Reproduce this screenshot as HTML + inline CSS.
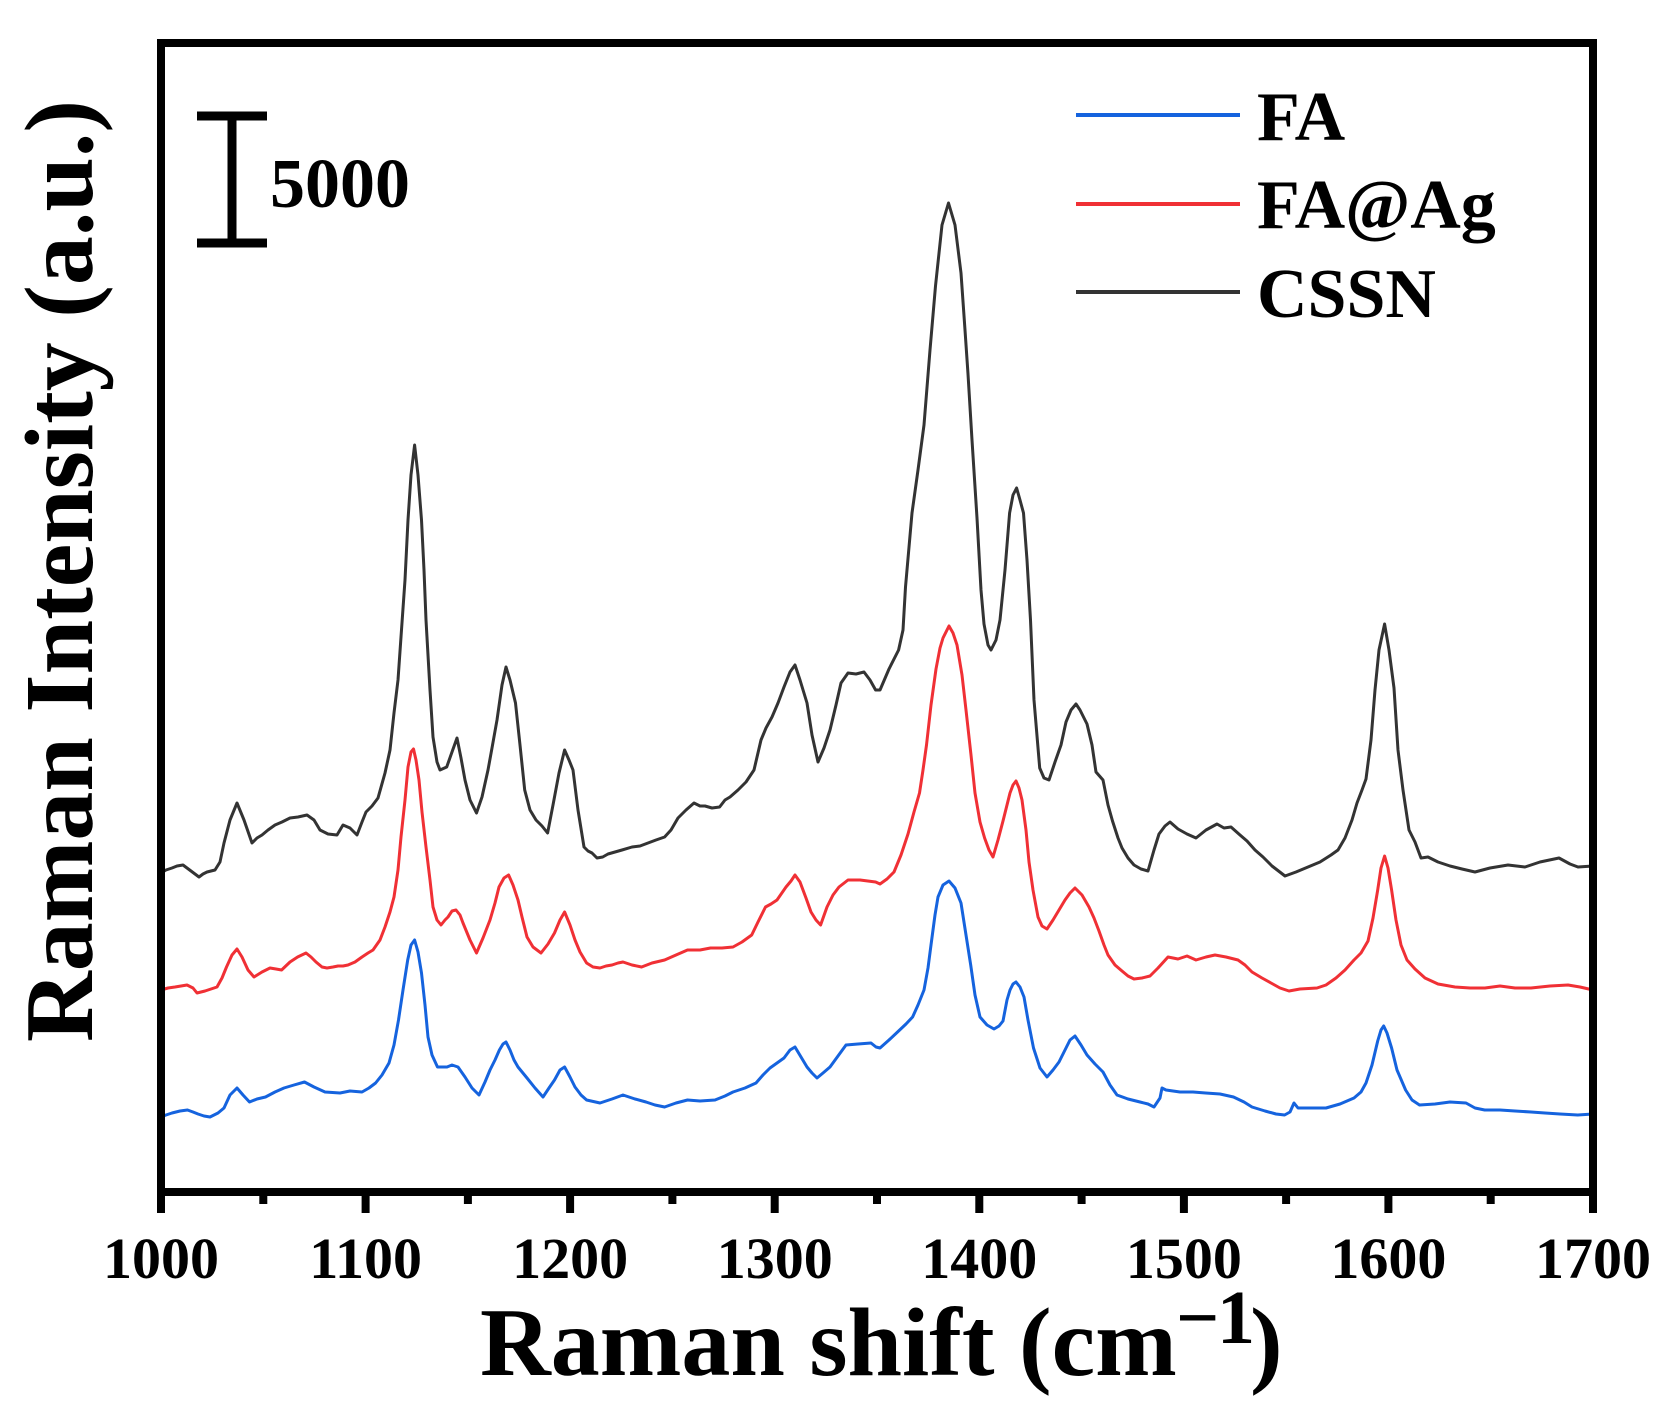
<!DOCTYPE html>
<html>
<head>
<meta charset="utf-8">
<style>
html,body{margin:0;padding:0;background:#fff;}
svg{display:block;}
text{font-family:"Liberation Serif","Times New Roman",serif;font-weight:bold;fill:#000;}
</style>
</head>
<body>
<svg width="1675" height="1427" viewBox="0 0 1675 1427" xmlns="http://www.w3.org/2000/svg">
<rect x="0" y="0" width="1675" height="1427" fill="#fff"/>

<!-- curves -->
<g fill="none" stroke-width="3" stroke-linejoin="round" stroke-linecap="round">
<polyline stroke="#333333" points="161,873 166,870 172,868 177,866 183,865 187,868 191,871 195,874 199,877 203,874 207,872 211,871 215,870 220,862 224,843 230,820 237,803 244,820 252,843 257,838 262,835 268,830 275,825 282,822 290,818 298,817 307,815 314,820 320,830 328,834 337,835 343,825 350,828 357,835 362,822 366,812 372,806 378,798 385,773 390,750 394,713 398,680 401,637 405,580 408,520 411,475 414.6,445 418,475 421.5,520 424,570 426,620 430,690 433,737 437,762 440,770 446.7,767 452,752 457,738 461,758 465,780 470,800 476.5,813 482,797 488,770 492,748 497,720 502,685 506,667 510,680 515.5,703 520,745 524.7,790 530,810 536,820 542,826 547.6,833 553,805 559,773 564.6,750 569,760 573,770 578,810 584,847 588,851 592,853 597,858 602.7,857 608,854 615,852 622,850 632,847 640,846 648,843 656,840 664.6,837 671,830 678,818 686,810 694,803 700,806 705,806 712,808 719.6,807 725,800 730,797 738,790 746,782 754,770 761,740 766,728 772,717 778,703 784,687 790,672 795,665 800,680 807,703 812,735 818,762 824,748 830,730 836,705 841,683 848,673 856,674 864,672 870,680 875.6,690 880,690 889,669 898.6,650 903,630 905.5,587 912,513 918,470 924,425 930,350 935.5,286 942,225 948.5,203 955,225 961,273 965,330 968,374 972,440 977,518 981,590 984,624 988,645 991,650 996,640 1000,620 1005,570 1009.6,513 1013,495 1016.6,488 1020,500 1023.5,513 1027,560 1030.5,620 1034,700 1039.7,768 1044,778 1049,780 1055,762 1061,745 1066,722 1071,710 1076,704 1080,710 1087,724 1092,745 1096,772 1103,780 1108,805 1112.5,821 1118,838 1122,848 1128,858 1134,865 1141,869 1148,871 1154,850 1159,834 1165,826 1170,822 1178,829 1187,834 1196,838 1206,830 1217,824 1224,828 1231,827 1240,835 1247,841 1255,850 1263,857 1272,866 1285,876 1296,872 1308,867 1320,862 1331,855 1338,850 1345,838 1352,820 1357,803 1362,790 1366,779 1371,740 1375,690 1379,650 1384.6,624 1389,650 1394,688 1398,750 1403,790 1409,830 1415,842 1421,858 1428,857 1438,862 1450,866 1462,869 1475,872 1490,868 1508,865 1525,867 1540,862 1559,858 1570,864 1578,867 1593,866"/>
<polyline stroke="#f03035" points="161,990 168,988 175,987 181,986 187,985 193,988 197,993 205,991 211,989 217,987 222,978 226.5,967 232,955 237,949 242,957 248,970 254,977 262,972 270,968 276,969 281.6,970 290,962 297.6,957 306,953 311,957 316,962 322,967 327,968 333,967 338,966 343,966 348,965 355,962 362,957 368,953 373,950 380,940 385,927 390,912 394,897 398,870 401,837 405,800 408,767 411,752 413.5,749 416,760 419,780 422,812 426,847 430,880 433,907 437,920 441,925 445,920 448,917 452,911 456,910 460,915 463,923 470,940 476.5,953 483,938 490,920 495,903 499,887 504,878 508.6,875 513,885 518,900 522,917 527,937 533,947 541,953 548,944 554.5,933 560,920 564.6,912 570,925 575,940 580,952 586.6,963 593,967 600,968 606,966 612,965 618,963 623,962 632,965 641.6,967 652,963 664.6,960 676,955 687.5,950 700,950 710.5,948 722,948 733,947 742,942 751.7,935 758,922 765.5,907 771,904 777,900 786,887 791,881 795,875 800,882 806,898 811,912 816,920 820.6,925 827,907 833,895 839,887 848,880 860,880 875.6,882 880,884 887,879 894,872 901,855 908,834 914,812 919.5,793 923,770 926.5,745 931,705 936,669 940,648 943,638 949,626 953,633 957,645 962,675 966,710 971,755 975,793 980,822 984.6,838 989,850 993,857 998,840 1003,821 1007,805 1010,793 1013,785 1016,781 1019,788 1022,800 1026,830 1029,862 1033,890 1038,917 1042,926 1047,929 1053,920 1059,910 1065,900 1070,893 1075,888 1082,895 1089,907 1094,918 1099,931 1104,945 1108,955 1115,965 1122,971 1128,976 1134,979 1142,978 1150,976 1158,968 1168,957 1178,959 1187,956 1196,960 1206,957 1215,955 1226,957 1238,960 1245,965 1252,972 1262,978 1271,983 1280,988 1289,991 1300,989 1317,988 1326,985 1336,978 1345,970 1354,960 1361,953 1368,941 1373,918 1377.7,890 1381,868 1384.6,856 1388,868 1391.6,890 1396,920 1401,945 1407,960 1415,969 1425,978 1438,984 1455,987 1470,988 1485,988 1500,986 1515,988 1531,988 1550,986 1568,985 1580,987 1593,990"/>
<polyline stroke="#1563de" points="161,1117 166,1115 172,1113 180,1111 187.5,1110 193,1112 198,1114 204,1116 210,1117 218,1113 224,1108 230,1095 237,1088 243,1095 249.5,1102 257,1099 265.5,1097 275,1092 284,1088 294,1085 304.5,1082 314,1087 325,1092 340,1093 350,1091 362,1092 369,1088 375.6,1083 382,1075 389,1063 394,1045 398.5,1020 403,990 407.7,960 411,945 414.6,940 418,952 421.5,973 425,1005 428,1037 432,1055 437.5,1067 447,1067 452,1065 458,1067 465,1077 472,1088 479,1095 485,1082 490,1070 495,1060 499.4,1050 503,1044 506,1042 510,1050 514,1060 518,1067 527,1078 535,1088 543,1097 549,1088 554.5,1080 560,1070 564.6,1067 570,1077 575,1087 581,1095 586.6,1100 600,1103 612,1099 623,1095 635,1099 646,1102 655,1105 664.6,1107 676,1103 687.5,1100 700,1101 715,1100 725,1096 733,1092 745,1088 756,1083 763,1075 770,1068 777,1063 784,1058 790,1050 795,1047 801,1057 807,1067 812,1073 817,1078 823,1073 830,1067 838,1056 846,1045 858,1044 871,1043 876,1047 880,1048 889,1040 898.6,1031 906,1024 912.6,1017 918,1005 924,990 928,968 931,945 935,915 938,897 943,885 949,881 955,888 961,903 966,935 970.7,965 975,995 980,1017 987,1025 994,1029 999,1026 1003,1021 1007,1000 1010,990 1013,984 1016,982 1020,987 1024,997 1028,1020 1033.5,1048 1040,1068 1047,1077 1053,1070 1059,1062 1065,1050 1070,1040 1075,1036 1081,1045 1087,1055 1095,1064 1103,1072 1110,1085 1117,1095 1128,1099 1140,1102 1148,1104 1154,1107 1160,1098 1162,1088 1166,1090 1180,1092 1193,1092 1205.6,1093 1220,1094 1233.5,1097 1244,1102 1252,1107 1265,1111 1276,1114 1284.6,1115 1290,1112 1294,1103 1298,1108 1310,1108 1326,1108 1340,1104 1354,1098 1361,1092 1366,1083 1372,1065 1377.7,1041 1381,1030 1383.7,1026 1387,1033 1391.6,1048 1397,1070 1405.6,1090 1412,1100 1419.5,1105 1435,1104 1450,1102 1466,1103 1475,1108 1484.7,1110 1500,1110 1515,1111 1531,1112 1545,1113 1560,1114 1577.7,1115 1593,1114"/>
</g>

<!-- frame -->
<rect x="161" y="43" width="1432" height="1149" fill="none" stroke="#000" stroke-width="8"/>

<!-- ticks -->
<g stroke="#000" stroke-width="8">
<line x1="161" y1="1192" x2="161" y2="1213"/>
<line x1="263.3" y1="1192" x2="263.3" y2="1204"/>
<line x1="365.6" y1="1192" x2="365.6" y2="1213"/>
<line x1="467.9" y1="1192" x2="467.9" y2="1204"/>
<line x1="570.1" y1="1192" x2="570.1" y2="1213"/>
<line x1="672.4" y1="1192" x2="672.4" y2="1204"/>
<line x1="774.7" y1="1192" x2="774.7" y2="1213"/>
<line x1="877" y1="1192" x2="877" y2="1204"/>
<line x1="979.3" y1="1192" x2="979.3" y2="1213"/>
<line x1="1081.6" y1="1192" x2="1081.6" y2="1204"/>
<line x1="1183.9" y1="1192" x2="1183.9" y2="1213"/>
<line x1="1286.1" y1="1192" x2="1286.1" y2="1204"/>
<line x1="1388.4" y1="1192" x2="1388.4" y2="1213"/>
<line x1="1490.7" y1="1192" x2="1490.7" y2="1204"/>
<line x1="1593" y1="1192" x2="1593" y2="1213"/>
</g>

<!-- tick labels -->
<g font-size="58" text-anchor="middle">
<text x="161" y="1278">1000</text>
<text x="365.6" y="1278">1100</text>
<text x="570.1" y="1278">1200</text>
<text x="774.7" y="1278">1300</text>
<text x="979.3" y="1278">1400</text>
<text x="1183.9" y="1278">1500</text>
<text x="1388.4" y="1278">1600</text>
<text x="1593" y="1278">1700</text>
</g>

<!-- axis titles -->
<text x="480" y="1375" font-size="98">Raman shift (cm</text>
<text x="1176" y="1343" font-size="76">−</text>
<text x="1217" y="1343" font-size="76">1</text>
<text x="1250" y="1375" font-size="98">)</text>

<text transform="translate(92,571) rotate(-90)" font-size="98" text-anchor="middle">Raman Intensity (a.u.)</text>

<!-- scale bar -->
<g stroke="#000" stroke-width="9">
<line x1="197" y1="116" x2="267" y2="116"/>
<line x1="232" y1="116" x2="232" y2="243"/>
<line x1="197" y1="243" x2="267" y2="243"/>
</g>
<text x="270" y="207" font-size="70">5000</text>

<!-- legend -->
<line x1="1076" y1="115" x2="1240" y2="115" stroke="#1563de" stroke-width="4"/>
<line x1="1076" y1="204" x2="1240" y2="204" stroke="#f03035" stroke-width="4"/>
<line x1="1076" y1="292" x2="1240" y2="292" stroke="#333333" stroke-width="4"/>
<g font-size="70">
<text x="1257" y="140">FA</text>
<text x="1257" y="228">FA@Ag</text>
<text x="1257" y="317">CSSN</text>
</g>
</svg>
</body>
</html>
